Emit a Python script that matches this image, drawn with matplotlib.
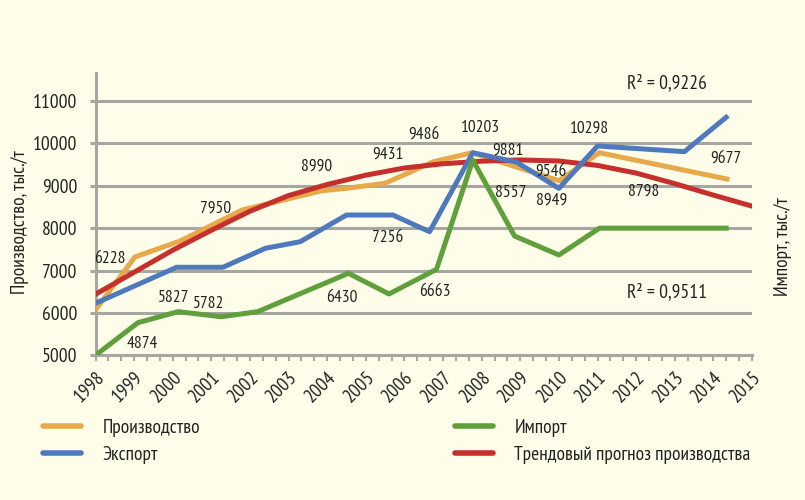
import matplotlib
matplotlib.use('Agg')
import matplotlib.pyplot as plt
from matplotlib.ticker import MultipleLocator

plt.rcParams['font.family'] = ['PT Sans Narrow', 'Roboto Condensed', 'DejaVu Sans']
plt.rcParams['font.stretch'] = 'condensed'

# production (orange)
prod_x = [1998, 1999.02, 2000.2, 2001.8, 2003.85, 2004.5, 2005.5, 2006.74, 2007.75, 2010.0, 2011.05, 2014.35]
prod_y = [6070, 7320, 7700, 8430, 8880, 8940, 9060, 9565, 9780, 9120, 9780, 9160]

# export (blue)
exp_x = [1998, 2000.1, 2001.3, 2002.4, 2003.3, 2004.5, 2005.7, 2006.65, 2007.77, 2008.9, 2010.0, 2011.0, 2013.25, 2014.33]
exp_y = [6227, 7077, 7077, 7525, 7680, 8310, 8310, 7917, 9780, 9560, 8940, 9939, 9805, 10616]

# import (green)
imp_x = [1998, 1999.1, 2000.14, 2001.26, 2002.2, 2004.55, 2005.6, 2006.83, 2007.77, 2008.85, 2010.0, 2011.05, 2014.33]
imp_y = [5000, 5770, 6030, 5910, 6030, 6935, 6447, 7028, 9608, 7815, 7367, 8000, 8000]

# trend forecast of production (red)
trend_x = list(range(1998, 2016))
trend_y = [6440, 6960, 7480, 7950, 8400, 8770, 9030, 9250, 9420, 9520, 9580, 9610,
           9585, 9480, 9300, 9050, 8780, 8520]

# value labels
lbl_text = ['6228', '4874', '5827', '5782', '7950', '8990', '9431', '7256', '6430', '9486',
            '6663', '10203', '9881', '8557', '9546', '8949', '10298', '8798', '9677']
lbl_x = [1998.36, 1999.20, 2000.01, 2000.92, 2001.12, 2003.72, 2005.57, 2005.57, 2004.39, 2006.50,
         2006.78, 2007.97, 2008.67, 2008.75, 2009.79, 2009.81, 2010.79, 2012.19, 2014.33]
lbl_y = [7284, 5255, 6352, 6210, 8452, 9455, 9738, 7768, 6352, 10210,
         6505, 10356, 9821, 8841, 9325, 8641, 10340, 8853, 9632]

years = list(range(1998, 2016))
bg = '#fefde9'
grey = '#a6a6a2'
ink = '#222222'

fig = plt.figure(figsize=(8.05, 5.0), dpi=100, facecolor=bg)
ax = fig.add_axes([95.5 / 805, 1 - 355.3 / 500, (752 - 95.5) / 805, (355.3 - 73) / 500])
ax.set_facecolor(bg)

lw = 3.6
ax.plot(prod_x, prod_y, color='#e7a94a', lw=lw, solid_joinstyle='round', label='Производство', zorder=3)
ax.plot(trend_x, trend_y, color='#c6302c', lw=lw, solid_joinstyle='round', label='Трендовый прогноз производства', zorder=4)
ax.plot(exp_x, exp_y, color='#4f79bd', lw=lw, solid_joinstyle='round', label='Экспорт', zorder=5)
ax.plot(imp_x, imp_y, color='#5f9f3c', lw=lw, solid_joinstyle='round', label='Импорт', zorder=6)

for t, x, y in zip(lbl_text, lbl_x, lbl_y):
    ax.text(x, y, t, fontsize=12.5, color=ink, ha='center', va='center', zorder=7)

ax.text(2012.8, 11430, 'R² = 0,9226', fontsize=14, color=ink, ha='center', va='center')
ax.text(2012.8, 6480, 'R² = 0,9511', fontsize=14, color=ink, ha='center', va='center')

ax.set_xlim(1998, 2015)
ax.set_ylim(5000, 11661)
ax.set_yticks(range(5000, 11001, 1000))
ax.xaxis.set_minor_locator(MultipleLocator(1 / 3))
ax.set_xticks(years)
ax.set_xticklabels([str(y) for y in years], rotation=45, ha='right', va='top',
                   rotation_mode='anchor', fontsize=14, color=ink)
ax.tick_params(axis='y', labelsize=14, labelcolor=ink, length=4, width=2.2, color=grey, pad=9)
ax.tick_params(axis='x', which='both', length=4, width=1.5, color=grey, pad=5)

ax.grid(axis='y', color=grey, lw=2.2, zorder=1)
ax.set_axisbelow(True)
for s in ['top', 'right']:
    ax.spines[s].set_visible(False)
for s in ['left', 'bottom']:
    ax.spines[s].set_color(grey)
    ax.spines[s].set_linewidth(2.2)

fig.text(20 / 805, 1 - 222 / 500, 'Производство, тыс./т', rotation=90, fontsize=14,
         color=ink, ha='center', va='center')
fig.text(783 / 805, 1 - 247 / 500, 'Импорт, тыс./т', rotation=90, fontsize=14,
         color=ink, ha='center', va='center')

h, l = ax.get_legend_handles_labels()
hd = dict(zip(l, h))
groups = [(['Производство', 'Экспорт'], 43), (['Импорт', 'Трендовый прогноз производства'], 455)]
for names, x0 in groups:
    leg = fig.legend([hd[n] for n in names], names, loc='upper left',
                     bbox_to_anchor=(x0 / 805, 1 - 419 / 500), frameon=False, fontsize=14,
                     handlelength=1.95, handletextpad=1.1, borderpad=0, borderaxespad=0,
                     labelspacing=0.45, labelcolor=ink)
    for lh in leg.legend_handles:
        lh.set_solid_capstyle('round')
        lh.set_linewidth(4)

fig.savefig('out.png', dpi=100, facecolor=bg)
